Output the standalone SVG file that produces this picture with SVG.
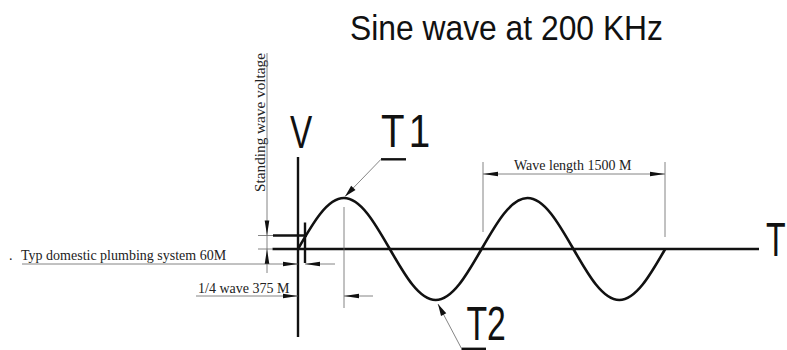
<svg xmlns="http://www.w3.org/2000/svg" xmlns:xlink="http://www.w3.org/1999/xlink" width="787" height="350" viewBox="0 0 787 350">
<style>
.thick{stroke:#111;stroke-width:2.4;fill:none;stroke-linecap:butt}
.wave{stroke:#111;stroke-width:2.6;fill:none}
.thin{stroke:#666;stroke-width:0.8;fill:none}
.lbl{font-family:"Liberation Serif","Times New Roman",serif;font-size:14px;fill:#222}
.big{font-family:"Liberation Sans",Arial,sans-serif;fill:#111}
.ah{fill:#111}
</style>
<defs>
<path id="ah" d="M0,0 L-15,-2.3 L-15,2.3 Z"/>
<path id="lh" d="M0,0 L-12,-3 L-12,3 Z"/>
</defs>
<rect width="787" height="350" fill="#fff"/>

<g id="title">
<text class="big" x="350" y="40" font-size="35" textLength="313" lengthAdjust="spacingAndGlyphs">Sine wave at 200 KHz</text>
</g>

<g id="axes">
<line class="thick" x1="298" y1="157" x2="298" y2="337"/>
<line class="thick" x1="272.5" y1="249" x2="759" y2="249"/>
<g transform="translate(290,148) scale(0.71,1)"><text class="big" x="0" y="0" font-size="47">V</text></g>
<g transform="translate(766,256) scale(0.67,1)"><text class="big" x="0" y="0" font-size="48">T</text></g>
</g>

<g id="wave">
<path class="wave" d="M298,249 C312.97,222.87 327.31,198 343.9,198 C360.49,198 374.83,222.87 389.8,249 C404.77,275.13 419.11,300 435.7,300 C452.29,300 466.63,275.13 481.6,249 C496.57,222.87 510.91,198 527.5,198 C544.09,198 558.43,222.87 573.4,249 C588.37,275.13 602.71,300 619.3,300 C635.89,300 650.23,275.13 665.2,249"/>
</g>

<g id="marker-point">
<line class="thick" x1="273" y1="235.5" x2="307" y2="235.5"/>
<line class="thick" x1="305" y1="222.5" x2="305" y2="263"/>
</g>

<g id="T1">
<g transform="translate(381,147) scale(0.82,1)"><text class="big" x="0" y="0" font-size="47">T</text><text class="big" x="34" y="0" font-size="47">1</text></g>
<line class="thick" x1="381" y1="159.3" x2="406" y2="159.3" stroke-width="2"/>
</g>

<g id="T2">
<g transform="translate(466.4,340) scale(0.69,1)"><text class="big" x="0" y="0" font-size="49">T2</text></g>
<line class="thick" x1="461.5" y1="348.8" x2="486" y2="348.8" stroke-width="2"/>
</g>

<g id="labels">
<text class="lbl" transform="translate(265,122.5) rotate(-90)" text-anchor="middle" textLength="139" lengthAdjust="spacingAndGlyphs" font-size="15">Standing wave voltage</text>
<text class="lbl" x="9" y="260">.<tspan x="21">Typ domestic plumbing system 60M</tspan></text>
<text class="lbl" x="198" y="293">1/4 wave 375 M</text>
<text class="lbl" x="514" y="170">Wave length 1500 M</text>
</g>

<g id="connectors">
<!-- standing wave voltage dimension -->
<line class="thin" x1="267" y1="53" x2="267" y2="273"/>
<line class="thin" x1="258" y1="235.5" x2="273" y2="235.5"/>
<line class="thin" x1="258" y1="249" x2="273" y2="249"/>
<use xlink:href="#ah" class="ah" transform="translate(267,235.5) rotate(90)"/>
<use xlink:href="#ah" class="ah" transform="translate(267,249) rotate(-90)"/>
<!-- 60M dimension -->
<line class="thin" x1="22" y1="264" x2="298" y2="264"/>
<line class="thin" x1="305" y1="264" x2="335" y2="264"/>
<use xlink:href="#ah" class="ah" transform="translate(298,264)"/>
<use xlink:href="#ah" class="ah" transform="translate(305,264) rotate(180)"/>
<!-- 1/4 wave dimension -->
<line class="thin" x1="196" y1="296" x2="298" y2="296"/>
<line class="thin" x1="344" y1="296" x2="373" y2="296"/>
<line class="thin" x1="344" y1="207" x2="344" y2="308"/>
<use xlink:href="#ah" class="ah" transform="translate(298,296)"/>
<use xlink:href="#ah" class="ah" transform="translate(344,296) rotate(180)"/>
<!-- wave length dimension -->
<line class="thin" x1="483" y1="162" x2="483" y2="232"/>
<line class="thin" x1="665" y1="162" x2="665" y2="237"/>
<line class="thin" x1="483" y1="174" x2="665" y2="174"/>
<use xlink:href="#ah" class="ah" transform="translate(483,174) rotate(180)"/>
<use xlink:href="#ah" class="ah" transform="translate(665,174)"/>
<!-- T1 leader -->
<line class="thin" x1="381" y1="159.3" x2="345" y2="196.5"/>
<use xlink:href="#lh" class="ah" transform="translate(345,196.5) rotate(134)"/>
<!-- T2 leader -->
<line class="thin" x1="461.5" y1="348.5" x2="438" y2="304"/>
<use xlink:href="#lh" class="ah" transform="translate(438,304) rotate(242)"/>
</g>
</svg>
